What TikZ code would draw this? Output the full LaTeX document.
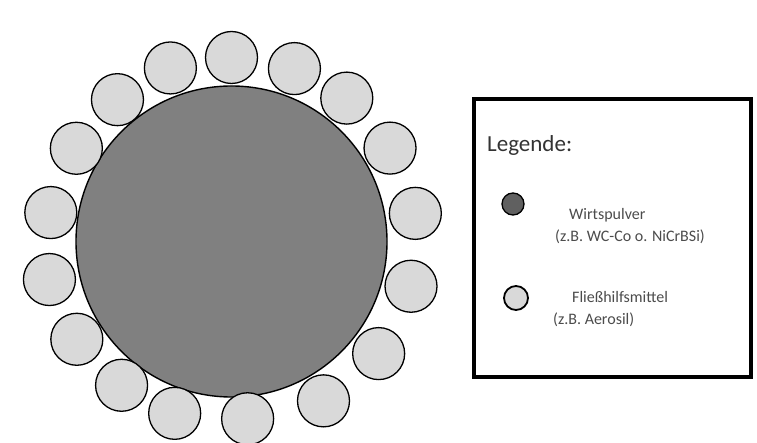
\documentclass[tikz,border=0pt]{standalone}
\usepackage{fontspec}
\setmainfont{Carlito}
\usepackage{tikz}
\usetikzlibrary{positioning, calc}

\begin{document}
\begin{tikzpicture}[
  x=1pt, y=-1pt,
  host/.style={circle, draw=black, line width=1.4pt, fill=gray, inner sep=0pt},
  flow/.style={circle, draw=black, line width=1.3pt, fill=gray!30, inner sep=0pt, minimum size=52pt},
  legbox/.style={draw=black, line width=3.2pt, fill=white},
  legtext/.style={font=\fontsize{16}{18}\selectfont, text=black!70, align=left, anchor=west, inner sep=0pt},
]
  \useasboundingbox (0,0) rectangle (757,443);

  % Host particle with the flow aid round it
  \node[host, minimum size=311pt] (host) at (231.5,241.5) {};
  \foreach \ang/\r [count=\i] in {90/184, 109.4/184, 70/184, 128.8/182, 51.2/184,
      149/181, 30.5/184, 170.9/183, 8.7/186, 191.8/186, -14/185, 212.3/183,
      -37.3/185, 232.6/181, -60/184, 251.7/181, 275.2/178}
    \node[flow] (flow\i) at ($(host.center)+(\ang:\r pt)$) {};

  % Legend
  \draw[legbox] (474,99) rectangle (751,377);
  \node[font=\fontsize{23}{25}\selectfont, text=black!80, anchor=west, inner sep=0pt]
    (legtitle) at (487,145) {Legende:};
  \node[host, minimum size=22pt, line width=1.3pt, fill=gray!75!black] (leghost) at (513,204) {};
  \node[legtext] (hosttext) at (555,226) {\hspace*{14pt}Wirtspulver\\[4pt](z.B. WC-Co o. NiCrBSi)};
  \node[flow, minimum size=24pt, line width=1.8pt] (legflow) at (516,298) {};
  \node[legtext] (flowtext) at (553,309)
    {\hspace*{19pt}Fließhilfsmittel\\[4pt](z.B. Aerosil)};
\end{tikzpicture}
\end{document}
